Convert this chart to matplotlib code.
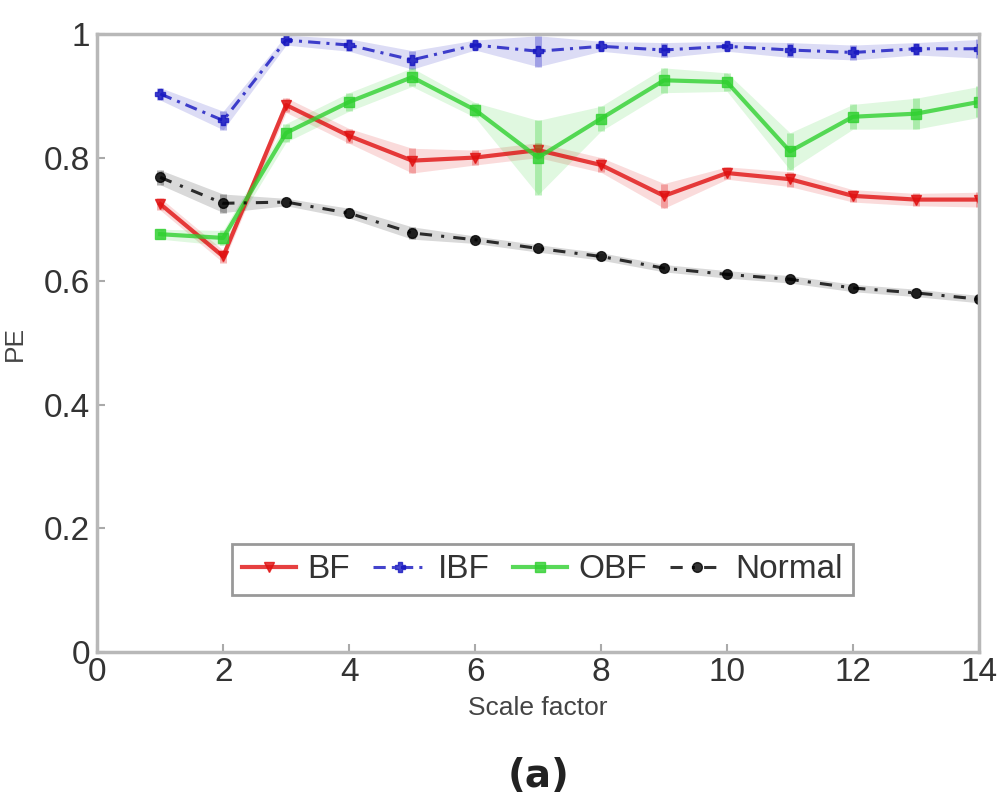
import numpy as np
import matplotlib.pyplot as plt

plt.rcParams['font.family'] = ['Liberation Sans Narrow', 'Liberation Sans', 'DejaVu Sans']

# PE versus scale factor for the four filters
scale = [1, 2, 3, 4, 5, 6, 7, 8, 9, 10, 11, 12, 13, 14]
bf = [0.725, 0.640, 0.885, 0.835, 0.795, 0.800, 0.812, 0.788, 0.738, 0.775, 0.765, 0.738, 0.732, 0.732]
ibf = [0.903, 0.860, 0.990, 0.982, 0.958, 0.982, 0.972, 0.980, 0.974, 0.980, 0.974, 0.970, 0.976, 0.976]
obf = [0.676, 0.670, 0.840, 0.890, 0.930, 0.877, 0.800, 0.863, 0.925, 0.922, 0.810, 0.866, 0.871, 0.890]
normal = [0.768, 0.726, 0.728, 0.710, 0.678, 0.667, 0.653, 0.640, 0.621, 0.611, 0.603, 0.589, 0.581, 0.571]

# spread around each point
bf_err = [0.010, 0.010, 0.012, 0.012, 0.020, 0.012, 0.012, 0.012, 0.020, 0.010, 0.012, 0.010, 0.010, 0.012]
ibf_err = [0.010, 0.015, 0.008, 0.010, 0.015, 0.008, 0.025, 0.008, 0.012, 0.008, 0.012, 0.012, 0.010, 0.015]
obf_err = [0.008, 0.012, 0.015, 0.015, 0.015, 0.012, 0.060, 0.020, 0.020, 0.015, 0.030, 0.020, 0.025, 0.025]
normal_err = [0.012, 0.015, 0.006, 0.008, 0.010, 0.006, 0.006, 0.006, 0.006, 0.006, 0.006, 0.006, 0.006, 0.006]

fig = plt.figure(figsize=(10.02, 8.08), dpi=100)
ax = fig.add_axes([0.097, 0.193, 0.880, 0.765])

series = [
    ('BF', bf, bf_err, '#e01010', '-', 'v', 3.0),
    ('IBF', ibf, ibf_err, '#1515c0', (0, (4, 2, 1, 2)), 'P', 2.2),
    ('OBF', obf, obf_err, '#30d030', '-', 's', 3.0),
    ('Normal', normal, normal_err, '#000000', (0, (4, 3, 1, 3)), 'o', 2.2),
]
for name, y, e, c, ls, mk, lw in series:
    y = np.array(y)
    e = np.array(e)
    ax.fill_between(scale, y - e, y + e, color=c, alpha=0.15, lw=0)
    ax.errorbar(scale, y, yerr=e, color=c, ls='none', elinewidth=5, alpha=0.3, capsize=0)
    ax.plot(scale, y, color=c, ls=ls, lw=lw, marker=mk, ms=7, label=name, alpha=0.8)

ax.set_xlim(0, 14)
ax.set_ylim(0, 1)
ax.set_xticks(range(0, 15, 2))
ax.set_yticks([0, 0.2, 0.4, 0.6, 0.8, 1])
ax.set_yticklabels(['0', '0.2', '0.4', '0.6', '0.8', '1'])
ax.tick_params(labelsize=24, colors='#aaaaaa', labelcolor='#333333', direction='in', length=6, width=1.5)
ax.tick_params(axis='y', pad=5)
for s in ax.spines.values():
    s.set_color('#b8b8b8')
    s.set_linewidth(2.5)

ax.set_xlabel('Scale factor', fontsize=19, color='#444444', labelpad=6)
ax.set_ylabel('PE', fontsize=19, color='#444444', labelpad=12)

leg = ax.legend(loc='lower center', bbox_to_anchor=(0.505, 0.065), ncol=4, fontsize=24,
                handlelength=1.6, handletextpad=0.35, columnspacing=0.7, borderpad=0.3,
                fancybox=False, framealpha=1, edgecolor='#999999', labelcolor='#333333')
leg.get_frame().set_linewidth(2)

fig.text(0.537, 0.04, '(a)', ha='center', va='center', fontsize=28, fontweight='bold',
         color='#222222', family='DejaVu Sans')

fig.savefig('out.png', dpi=100)
